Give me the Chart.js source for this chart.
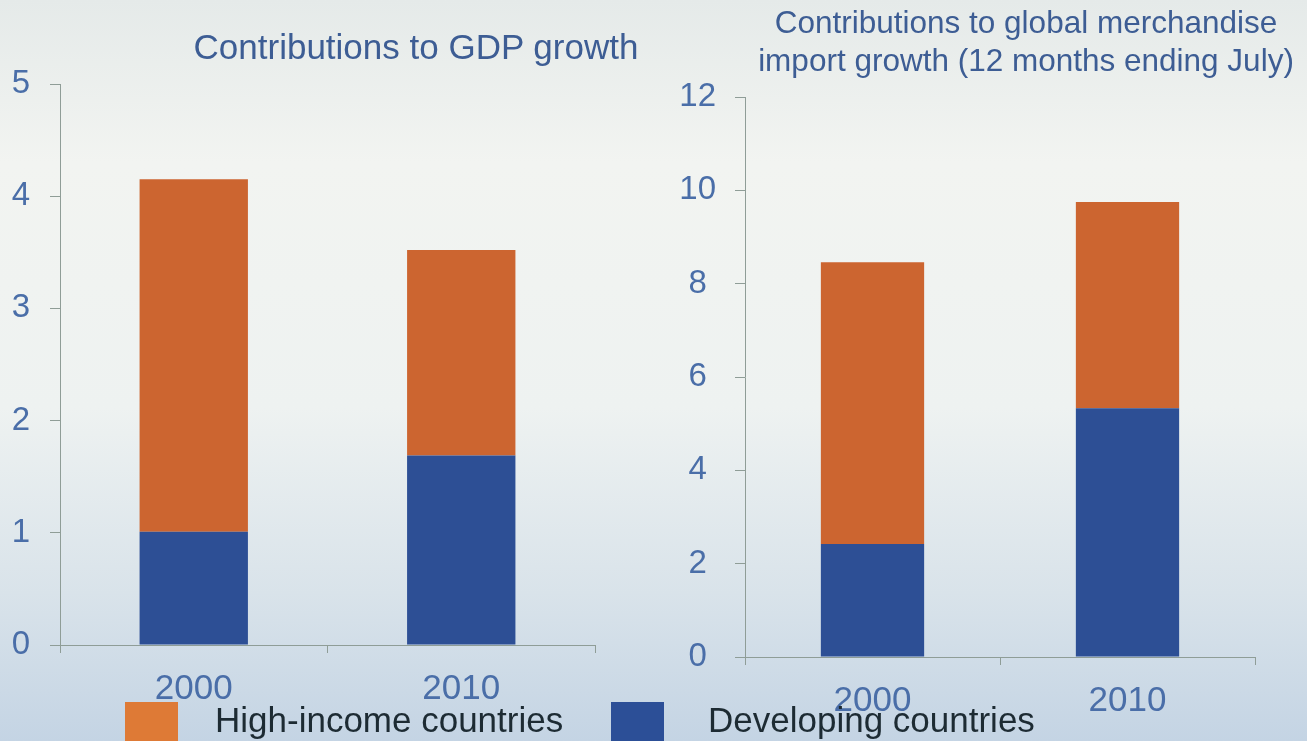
<!DOCTYPE html>
<html>
<head>
<meta charset="utf-8">
<script src="https://cdn.jsdelivr.net/npm/chart.js@4.4.0/dist/chart.umd.min.js"></script>
<style>
    html, body {
        margin: 0;
        padding: 0;
        width: 1307px;
        height: 741px;
        overflow: hidden;
        font-family: "Liberation Sans", Arial, sans-serif;
    }
    body {
        position: relative;
        background: linear-gradient(to bottom, #e5eae9 0%, #f2f4f1 22%, #eef2f1 55%, #d9e3ea 80%, #c4d4e4 100%);
    }
    .box { position: absolute; top: 0; height: 741px; }
    #leftBox { left: 0; width: 650px; }
    #rightBox { left: 650px; width: 657px; }
    .title {
        position: absolute;
        color: #3d5d94;
        text-align: center;
        white-space: nowrap;
    }
    #leftTitle { left: 416px; top: 27px; font-size: 35px; line-height: 40px; transform: translateX(-50%); }
    #rightTitle { left: 1026px; top: 3px; font-size: 31.5px; line-height: 38px; transform: translateX(-50%); }
    .legend { position: absolute; top: 700px; font-size: 35px; color: #1d2b33; white-space: nowrap; }
    .swatch { position: absolute; top: 702px; width: 53px; height: 45px; }
</style>
</head>
<body>
<div class="box" id="leftBox"><canvas id="gdpChart"></canvas></div>
<div class="box" id="rightBox"><canvas id="importChart"></canvas></div>
<div class="title" id="leftTitle">Contributions to GDP growth</div>
<div class="title" id="rightTitle">Contributions to global merchandise<br>import growth (12 months ending July)</div>
<div class="swatch" style="left:125px;background:#de7a36;"></div>
<div class="legend" style="left:215px;">High-income countries</div>
<div class="swatch" style="left:611px;background:#2c4f97;"></div>
<div class="legend" style="left:708px;">Developing countries</div>

<script>
// Data
const years = ['2000', '2010'];
const gdpDeveloping = [1.01, 1.69];
const gdpHighIncome = [3.14, 1.83];
const importDeveloping = [2.42, 5.33];
const importHighIncome = [6.04, 4.42];
const gdpTicks = [0, 1, 2, 3, 4, 5];
const importTicks = [0, 2, 4, 6, 8, 10, 12];

const orange = '#cc6530';
const blue = '#2d4f95';
const axisGray = '#8f9d97';
const tickBlue = '#4a6ea8';

function makeChart(id, developing, highIncome, tickVals, opts) {
    const ctx = document.getElementById(id).getContext('2d');
    return new Chart(ctx, {
        type: 'bar',
        data: {
            labels: years,
            datasets: [
                { label: 'Developing countries', data: developing, backgroundColor: blue },
                { label: 'High-income countries', data: highIncome, backgroundColor: orange }
            ]
        },
        options: {
            responsive: false,
            animation: false,
            layout: { padding: opts.padding },
            datasets: { bar: { barPercentage: 0.405, categoryPercentage: 1 } },
            plugins: {
                legend: { display: false },
                title: { display: false },
                tooltip: { enabled: false }
            },
            scales: {
                x: {
                    stacked: true,
                    grid: { offset: true, drawOnChartArea: false, color: axisGray, tickLength: 8 },
                    border: { color: axisGray },
                    ticks: { color: tickBlue, padding: opts.xPad, font: { family: 'Liberation Sans', size: 35 } },
                    afterFit: (scale) => { scale.height = 60; }
                },
                y: {
                    stacked: true,
                    min: tickVals[0],
                    max: tickVals[tickVals.length - 1],
                    afterBuildTicks: (scale) => { scale.ticks = tickVals.map(v => ({ value: v })); },
                    grid: { drawOnChartArea: false, color: axisGray, tickLength: 10 },
                    border: { color: axisGray },
                    ticks: {
                        color: tickBlue,
                        crossAlign: 'center',
                        padding: opts.yPad,
                        font: { family: 'Liberation Sans', size: 33 }
                    },
                    afterFit: (scale) => { scale.width = opts.yWidth; }
                }
            }
        }
    });
}

const leftCanvas = document.getElementById('gdpChart');
leftCanvas.width = 650; leftCanvas.height = 741;
const rightCanvas = document.getElementById('importChart');
rightCanvas.width = 657; rightCanvas.height = 741;

makeChart('gdpChart', gdpDeveloping, gdpHighIncome, gdpTicks, {
    padding: { top: 84, bottom: 36, left: 0, right: 55 },
    xPad: 15, yPad: 20, yWidth: 60
});
makeChart('importChart', importDeveloping, importHighIncome, importTicks, {
    padding: { top: 97, bottom: 24, left: 0, right: 52 },
    xPad: 15, yPad: 19, yWidth: 95
});
</script>
</body>
</html>
